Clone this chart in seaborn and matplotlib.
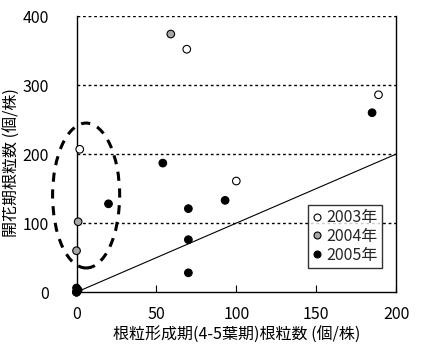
import matplotlib
matplotlib.use("Agg")
import matplotlib.pyplot as plt
import seaborn as sns
import pandas as pd
from matplotlib.patches import Ellipse
from matplotlib.lines import Line2D

sns.set_theme(style="white")
plt.rcParams['font.family'] = ['Noto Sans CJK JP', 'DejaVu Sans']

years = ["2003年", "2004年", "2005年"]
x2003 = [2, 69, 100, 189, 0]
y2003 = [207, 352, 161, 286, 0]
x2004 = [59, 1, 0, 0]
y2004 = [374, 102, 60, 0]
x2005 = [54, 20, 70, 93, 70, 70, 185, 0, 1, 0]
y2005 = [187, 128, 121, 133, 76, 28, 260, 0, 3, 6]
colors = ["white", "#a6a6a6", "black"]
xticks = [0, 50, 100, 150, 200]
yticks = [0, 100, 200, 300, 400]
xlabel = "根粒形成期(4-5葉期)根粒数 (個/株)"
ylabel = "開花期根粒数 (個/株)"

df = pd.DataFrame({
    "x": x2003 + x2004 + x2005,
    "y": y2003 + y2004 + y2005,
    "year": [years[0]] * len(x2003) + [years[1]] * len(x2004) + [years[2]] * len(x2005),
})

fig = plt.figure(figsize=(4.45, 3.58), dpi=100)
ax = fig.add_axes([0.172, 0.184, 0.718, 0.771])

# 1:1 line
ax.plot([0, 200], [0, 200], color="black", lw=0.8, zorder=1)

sns.scatterplot(data=df, x="x", y="y", hue="year", hue_order=years,
                palette=dict(zip(years, colors)), edgecolor="black",
                linewidth=0.8, s=30, ax=ax, legend=False, zorder=3, clip_on=False)

ax.set_xlim(0, 200)
ax.set_ylim(0, 400)
ax.set_xticks(xticks)
ax.set_yticks(yticks)
ax.tick_params(axis="x", direction="in", length=5, width=0.8, color="black",
               labelsize=11.5, pad=10, bottom=True)
ax.tick_params(axis="y", length=0, labelsize=11.5, pad=20)
for lab in ax.get_xticklabels() + ax.get_yticklabels():
    lab.set_color("black")

for yv in [100, 200, 300, 400]:
    ax.axhline(yv, color="black", lw=1.0, ls=(0, (2, 2)), zorder=0)

for side in ["left", "bottom", "right"]:
    ax.spines[side].set_visible(True)
    ax.spines[side].set_color("black")
    ax.spines[side].set_linewidth(1.0)
ax.spines["top"].set_visible(False)

ax.set_xlabel(xlabel, fontsize=11.5, color="black", labelpad=3)
ax.set_ylabel(ylabel, fontsize=11.5, color="black")
ax.yaxis.set_label_coords(-0.175, 0.47)

ell = Ellipse((6, 140), 42, 210, angle=0, fill=False, edgecolor="black",
              lw=2.2, ls=(0, (3, 2.5)), clip_on=False, zorder=2)
ax.add_patch(ell)

handles = [Line2D([], [], marker="o", ls="", markerfacecolor=c, markeredgecolor="black",
                  markersize=5, markeredgewidth=0.8) for c in colors]
leg = ax.legend(handles, years, loc="lower right", bbox_to_anchor=(0.98, 0.06),
                fontsize=11.5, frameon=True, fancybox=False, edgecolor="black",
                handlelength=0.6, handletextpad=0.3, borderpad=0.25, labelspacing=0.1)
leg.get_frame().set_linewidth(1.0)

fig.savefig("out.png", dpi=100, facecolor="white")
